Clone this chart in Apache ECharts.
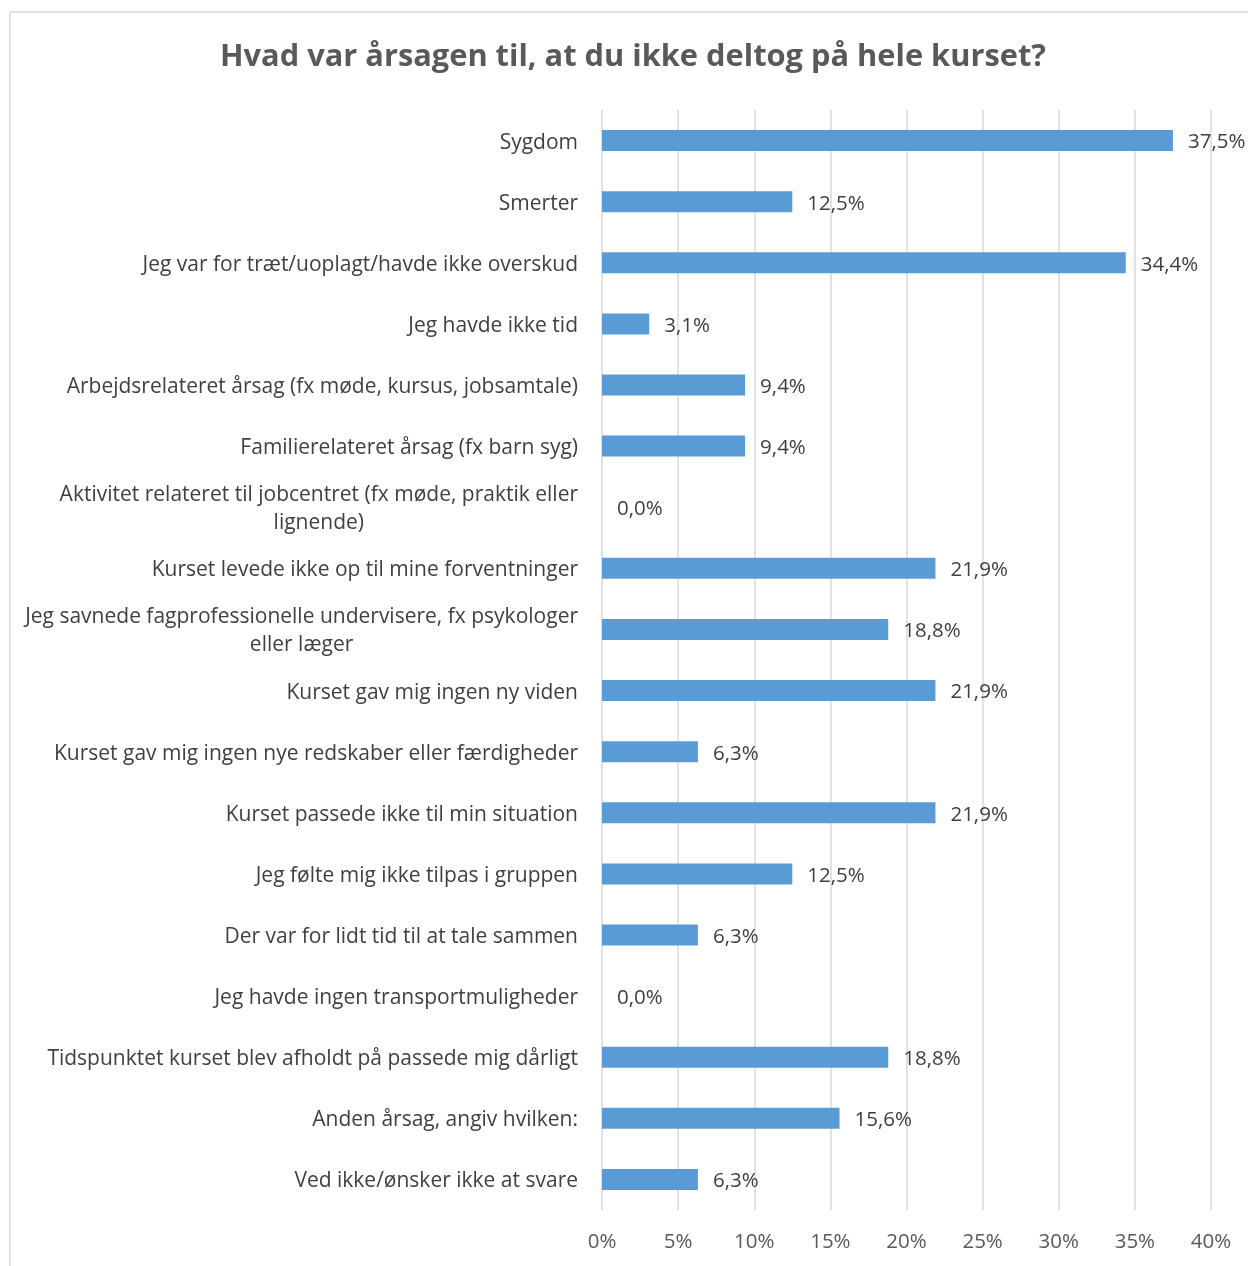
<!DOCTYPE html>
<html>
<head>
<meta charset="utf-8">
<script src="https://cdn.jsdelivr.net/npm/echarts@6/dist/echarts.min.js"></script>
<style>
  html, body { margin: 0; padding: 0; background: #ffffff; }
  #chart { width: 1248px; height: 1266px; }
</style>
</head>
<body>
<div id="chart"></div>
<script>
// Survey answers: reasons for not completing the whole course
const categories = [
  'Sygdom',
  'Smerter',
  'Jeg var for træt/uoplagt/havde ikke overskud',
  'Jeg havde ikke tid',
  'Arbejdsrelateret årsag (fx møde, kursus, jobsamtale)',
  'Familierelateret årsag (fx barn syg)',
  'Aktivitet relateret til jobcentret (fx møde, praktik eller\nlignende)',
  'Kurset levede ikke op til mine forventninger',
  'Jeg savnede fagprofessionelle undervisere, fx psykologer\neller læger',
  'Kurset gav mig ingen ny viden',
  'Kurset gav mig ingen nye redskaber eller færdigheder',
  'Kurset passede ikke til min situation',
  'Jeg følte mig ikke tilpas i gruppen',
  'Der var for lidt tid til at tale sammen',
  'Jeg havde ingen transportmuligheder',
  'Tidspunktet kurset blev afholdt på passede mig dårligt',
  'Anden årsag, angiv hvilken:',
  'Ved ikke/ønsker ikke at svare'
];
const shares = [37.5, 12.5, 34.4, 3.1, 9.4, 9.4, 0.0, 21.9, 18.8, 21.9, 6.3, 21.9, 12.5, 6.3, 0.0, 18.8, 15.6, 6.3];
const tickValues = [0, 5, 10, 15, 20, 25, 30, 35, 40];

const FONT = '"Open Sans", "Noto Sans", sans-serif';
const CAT_SIZE = 21;
const NUM_SIZE = 20.5;
const chart = echarts.init(document.getElementById('chart'), null, { renderer: 'canvas' });

chart.setOption({
  backgroundColor: '#ffffff',
  animation: false,
  title: {
    text: 'Hvad var årsagen til, at du ikke deltog på hele kurset?',
    left: 628,
    top: 37,
    textAlign: 'center',
    textStyle: { fontFamily: FONT, fontSize: 30.8, fontWeight: 'bold', color: '#595959' }
  },
  graphic: [{
    type: 'rect',
    shape: { x: 10, y: 12, width: 1260, height: 1280 },
    style: { fill: 'none', stroke: '#d9d9d9', lineWidth: 1.5 },
    silent: true
  }],
  grid: { left: 602, right: 37, top: 110, bottom: 56, containLabel: false },
  xAxis: {
    type: 'value',
    min: tickValues[0],
    max: tickValues[tickValues.length - 1],
    interval: 5,
    axisLine: { show: false },
    axisTick: { show: false },
    splitLine: { show: true, lineStyle: { color: '#d9d9d9', width: 1.5 } },
    axisLabel: {
      margin: 22,
      fontFamily: FONT,
      fontSize: NUM_SIZE,
      color: '#595959',
      formatter: v => v + '%'
    }
  },
  yAxis: {
    type: 'category',
    data: categories,
    inverse: true,
    axisLine: { show: false },
    axisTick: { show: false },
    splitLine: { show: false },
    axisLabel: {
      margin: 24,
      fontFamily: FONT,
      fontSize: CAT_SIZE,
      color: '#404040',
      lineHeight: 28,
      padding: [4, 0, 0, 0],
      formatter: v => v.split('\n').map(l => '{c|' + l + '}').join('\n'),
      rich: { c: { align: 'center', fontFamily: FONT, fontSize: CAT_SIZE, color: '#404040', lineHeight: 28 } }
    }
  },
  series: [{
    type: 'bar',
    data: shares,
    barWidth: 21,
    itemStyle: { color: '#5b9bd5' },
    label: {
      show: true,
      position: 'right',
      distance: 15,
      offset: [0, 2],
      fontFamily: FONT,
      fontSize: NUM_SIZE,
      color: '#404040',
      formatter: p => p.value.toFixed(1).replace('.', ',') + '%'
    }
  }]
});
</script>
</body>
</html>
